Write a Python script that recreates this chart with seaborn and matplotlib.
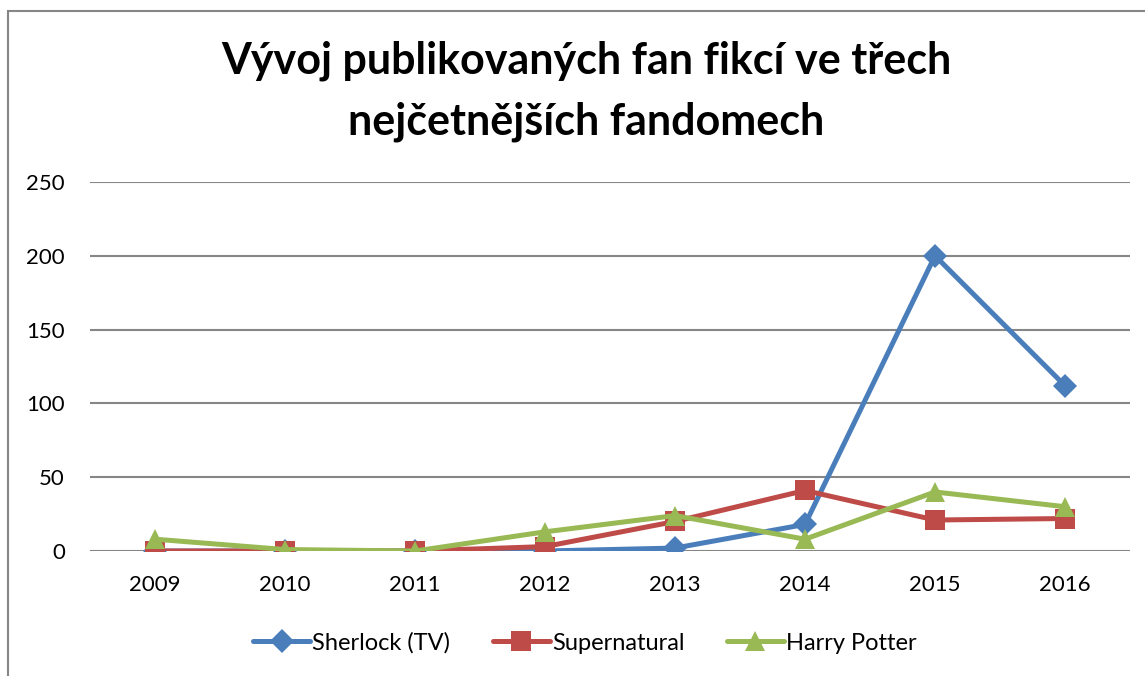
import pandas as pd
import numpy as np
import matplotlib.pyplot as plt
import seaborn as sns
from matplotlib.patches import Rectangle

# ── data ────────────────────────────────────────────────────────────────────
years = [2009, 2010, 2011, 2012, 2013, 2014, 2015, 2016]
series_names = ["Sherlock (TV)", "Supernatural", "Harry Potter"]
sherlock = [0, 0, 0, 0, 2, 18, 200, 112]
supernatural = [0, 0, 0, 3, 20, 41, 21, 22]
harry_potter = [8, 1, 0, 13, 24, 8, 40, 30]
y_ticks = [0, 50, 100, 150, 200, 250]
title = "Vývoj publikovaných fan fikcí ve třech\nnejčetnějších fandomech"

df = pd.DataFrame({
    "year": [str(y) for y in years] * 3,
    "count": sherlock + supernatural + harry_potter,
    "fandom": np.repeat(series_names, len(years)),
})

colors = {"Sherlock (TV)": "#4A7EBB", "Supernatural": "#BE4B48",
          "Harry Potter": "#98B954"}
markers = {"Sherlock (TV)": "D", "Supernatural": "s", "Harry Potter": "^"}
msizes = {"Sherlock (TV)": 12, "Supernatural": 14, "Harry Potter": 15}

sns.set_theme(style="white")
plt.rcParams["font.family"] = ["Lato", "DejaVu Sans"]
plt.rcParams["text.color"] = "black"

fig = plt.figure(figsize=(11.45, 6.76), dpi=100)
ax = fig.add_axes([0.0786, 0.1849, 0.9083, 0.5459])

for name in series_names:
    sub = df[df["fandom"] == name]
    sns.lineplot(data=sub, x="year", y="count", ax=ax, color=colors[name],
                 marker=markers[name], markersize=msizes[name],
                 markeredgewidth=0, linewidth=3.6, label=name, sort=False)

ax.set_xlim(-0.5, len(years) - 0.5)
ax.set_ylim(0, 250)
ax.set_yticks(y_ticks)
ax.yaxis.grid(True, color="#868686", linewidth=1.5)
ax.set_axisbelow(True)
for s in ax.spines.values():
    s.set_visible(False)
ax.set_xlabel("")
ax.set_ylabel("")
ax.tick_params(axis="both", labelsize=16, length=0, colors="black")
ax.tick_params(axis="x", pad=17)
ax.tick_params(axis="y", pad=18)

leg = ax.legend(loc="center", bbox_to_anchor=(0.476, -0.249), ncol=3,
                frameon=False, fontsize=17, handlelength=2.4,
                columnspacing=1.8, handletextpad=0.1, labelcolor="black")

fig.text(0.512, 0.865, title, ha="center", va="center", fontsize=31,
         fontweight="bold", linespacing=1.6, color="black")

# outer chart frame (cut off on the right and bottom in the reference)
fig.patches.append(Rectangle((8 / 1145, -0.1), 1.2, (676 - 11) / 676 + 0.1,
                             transform=fig.transFigure, fill=False,
                             edgecolor="#868686", linewidth=1.5))

fig.savefig("out.png", dpi=100)
